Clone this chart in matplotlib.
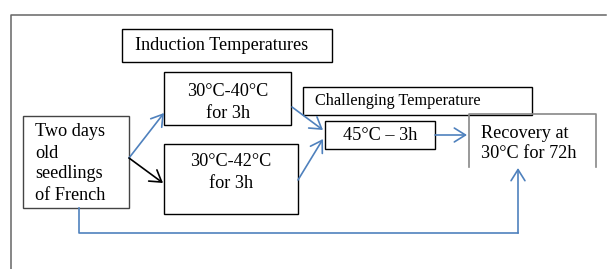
import matplotlib
matplotlib.use("Agg")
import matplotlib.pyplot as plt
from matplotlib.patches import Rectangle

plt.rcParams['font.family'] = ['Liberation Serif', 'DejaVu Serif']

# box labels
title_label = "Induction Temperatures"
challenge_label = "Challenging Temperature"
seedling_lines = ["Two days", "old", "seedlings", "of French"]
induction_a = ["30°C-40°C", "for 3h"]
induction_b = ["30°C-42°C", "for 3h"]
challenge_step = "45°C – 3h"
recovery_lines = ["Recovery at", "30°C for 72h"]

BLUE = "#4f81bd"
DPI = 100
fig = plt.figure(figsize=(607 / DPI, 269 / DPI), dpi=DPI)
ax = fig.add_axes([0, 0, 1, 1])
ax.set_xlim(0, 607)
ax.set_ylim(269, 0)
ax.axis('off')


def px(size):
    return size * 72 / DPI


def box(x0, y0, x1, y1, color="black", lw=1.0):
    ax.add_patch(Rectangle((x0, y0), x1 - x0, y1 - y0, fill=False,
                           edgecolor=color, linewidth=lw))


def arrow(x0, y0, x1, y1, color=BLUE):
    ax.annotate("", xy=(x1, y1), xytext=(x0, y0),
                arrowprops=dict(arrowstyle="->,head_length=0.8,head_width=0.5",
                                color=color, lw=1.2, shrinkA=0, shrinkB=0))


# outer frame (top and left only visible)
ax.plot([11, 11, 606], [269, 15, 15], color="#666666", lw=1.1)

# boxes
box(122, 29, 332, 62)
ax.text(135, 46, title_label, fontsize=px(18.3), va='center', ha='left')

box(164, 72, 291, 125)
ax.text(228, 92, induction_a[0], fontsize=px(18.3), va='center', ha='center')
ax.text(228, 113, induction_a[1], fontsize=px(18.3), va='center', ha='center')

box(303, 87, 532, 115)
ax.text(315, 101, challenge_label, fontsize=px(16.3), va='center', ha='left')

box(23, 116, 129, 208, color="#444444")
for i, line in enumerate(seedling_lines):
    ax.text(35, 132 + 21 * i, line, fontsize=px(18.3), va='center', ha='left')

box(164, 144, 298, 214)
ax.text(231, 162, induction_b[0], fontsize=px(18.3), va='center', ha='center')
ax.text(231, 183, induction_b[1], fontsize=px(18.3), va='center', ha='center')

box(325, 121, 435, 149)
ax.text(380, 136, challenge_step, fontsize=px(18.3), va='center', ha='center')

# recovery box: open at the bottom
ax.plot([469, 469, 596, 596], [167, 114, 114, 167], color="#888888", lw=1.2)
ax.text(481, 133, recovery_lines[0], fontsize=px(18.3), va='center', ha='left')
ax.text(481, 154, recovery_lines[1], fontsize=px(18.3), va='center', ha='left')

# arrows
arrow(129, 158, 164, 113)
arrow(129, 158, 163, 183, color="black")
arrow(292, 107, 323, 130)
arrow(298, 180, 323, 139)
arrow(435, 135, 467, 135)
ax.plot([79, 79, 518], [208, 233, 233], color=BLUE, lw=1.2)
arrow(518, 233, 518, 168)

fig.savefig("out.png", dpi=DPI)
